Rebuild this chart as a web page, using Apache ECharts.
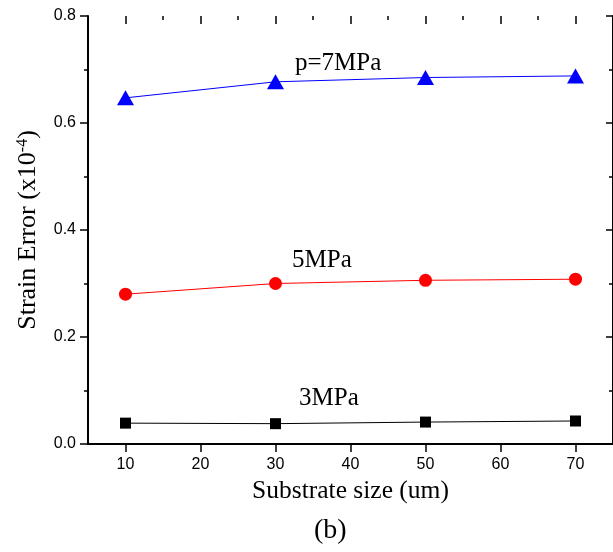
<!DOCTYPE html>
<html><head><meta charset="utf-8">
<script src="https://cdn.jsdelivr.net/npm/echarts@6/dist/echarts.min.js"></script>
<style>html,body{margin:0;padding:0;background:#fff}#c{width:613px;height:552px}</style>
</head><body><div id="c"></div>
<script>
var sizes = [10, 30, 50, 70];
var p3 = [0.039, 0.038, 0.041, 0.043];
var p5 = [0.280, 0.300, 0.306, 0.308];
var p7 = [0.647, 0.677, 0.685, 0.688];
var xTicks = [10, 20, 30, 40, 50, 60, 70];
var xMinorTicks = [15, 25, 35, 45, 55, 65];
var yTicks = ['0.0', '0.2', '0.4', '0.6', '0.8'];

function pairs(v){ return sizes.map(function(s,i){return [s, v[i]];}); }
var chart = echarts.init(document.getElementById('c'));
var serif = 'Liberation Serif';
var sans = 'Liberation Sans';
var tickStyle = {color:'#000', width:1.5};
var yMax = 0.8, plotH = 428;
var unitPerPx = yMax / plotH;
// inward tick marks on the top frame, placed in data space through the axes
var topTicks = [];
xTicks.forEach(function(v){ topTicks.push([{coord:[v, yMax]}, {coord:[v, yMax - 8*unitPerPx]}]); });
xMinorTicks.forEach(function(v){ topTicks.push([{coord:[v, yMax]}, {coord:[v, yMax - 4*unitPerPx]}]); });

chart.setOption({
  animation:false,
  backgroundColor:'#fff',
  grid:{left:88, top:16, width:528.5, height:plotH},
  xAxis:[{
    type:'value', min:5, max:75, position:'bottom',
    axisLine:{lineStyle:{color:'#000', width:2}},
    axisTick:{inside:false, length:8, customValues:xTicks, lineStyle:tickStyle},
    axisLabel:{color:'#000', fontFamily:sans, fontSize:16, margin:13, customValues:xTicks,
      formatter:function(v){return String(v);}},
    splitLine:{show:false},
    name:'Substrate size (um)', nameLocation:'middle', nameGap:33,
    nameTextStyle:{color:'#000', fontFamily:serif, fontSize:25.5}
  },{
    type:'value', min:5, max:75, interval:10, position:'top',
    axisLine:{lineStyle:{color:'#000', width:2}},
    axisTick:{show:false},
    axisLabel:{show:false}, splitLine:{show:false}
  }],
  yAxis:[{
    type:'value', min:0, max:yMax, interval:0.2, position:'left',
    axisLine:{show:true, lineStyle:{color:'#000', width:2}},
    axisTick:{show:true, inside:false, length:8, lineStyle:tickStyle},
    minorTick:{show:true, splitNumber:2, length:4, lineStyle:tickStyle},
    axisLabel:{color:'#000', fontFamily:sans, fontSize:16, margin:12,
      formatter:function(v){return yTicks[Math.round(v/0.2)];}},
    splitLine:{show:false},
    name:'Strain Error (x10{sup|-4})', nameLocation:'middle', nameGap:44, nameRotate:90,
    nameTextStyle:{color:'#000', fontFamily:serif, fontSize:26,
      rich:{sup:{fontFamily:serif, fontSize:16, color:'#000', verticalAlign:'top', lineHeight:14, padding:[0,0,12,0]}}}
  },{
    type:'value', min:0, max:yMax, interval:0.2, position:'right',
    axisLine:{show:true, lineStyle:{color:'#000', width:2}},
    axisTick:{show:true, inside:true, length:7, lineStyle:tickStyle},
    minorTick:{show:true, splitNumber:2, length:4, lineStyle:tickStyle},
    axisLabel:{show:false}, splitLine:{show:false}
  }],
  series:[
    {type:'line', name:'3MPa', data:pairs(p3), symbol:'rect', symbolSize:11,
      itemStyle:{color:'#000'}, lineStyle:{color:'#000', width:1},
      markLine:{silent:true, symbol:['none','none'], label:{show:false},
        lineStyle:{color:'#000', width:1.5, type:'solid'}, emphasis:{disabled:true},
        animation:false, data:topTicks}},
    {type:'line', name:'5MPa', data:pairs(p5), symbol:'circle', symbolSize:13,
      itemStyle:{color:'#ff0000'}, lineStyle:{color:'#ff0000', width:1}},
    {type:'line', name:'p=7MPa', data:pairs(p7), symbol:'triangle', symbolSize:[17,15],
      itemStyle:{color:'#0000ff'}, lineStyle:{color:'#0000ff', width:1}}
  ],
  graphic:[
    {type:'text', left:295, top:51, style:{text:'p=7MPa', fontFamily:serif, fontSize:25, fill:'#000'}},
    {type:'text', left:292, top:248, style:{text:'5MPa', fontFamily:serif, fontSize:25, fill:'#000'}},
    {type:'text', left:299, top:386, style:{text:'3MPa', fontFamily:serif, fontSize:25, fill:'#000'}},
    {type:'text', left:314, top:517, style:{text:'(b)', fontFamily:serif, fontSize:28, fill:'#000'}}
  ]
});
</script></body></html>
